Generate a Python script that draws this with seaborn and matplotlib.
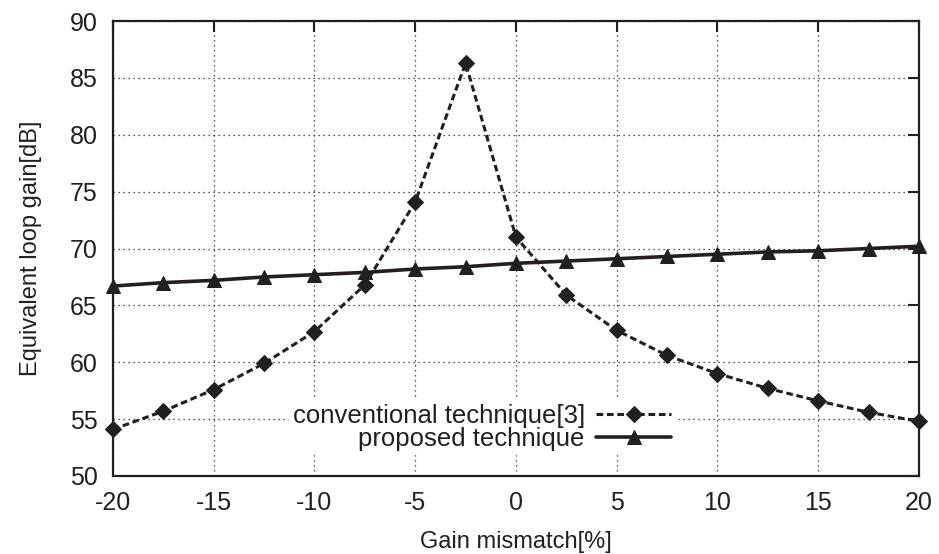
import numpy as np
import pandas as pd
import seaborn as sns
import matplotlib
matplotlib.use("Agg")
import matplotlib.pyplot as plt

# gain mismatch [%]
mismatch = [-20, -17.5, -15, -12.5, -10, -7.5, -5, -2.5, 0, 2.5, 5, 7.5, 10, 12.5, 15, 17.5, 20]
conventional = [54.1, 55.7, 57.6, 59.9, 62.7, 66.8, 74.1, 86.3, 71.0, 65.9, 62.8, 60.6, 59.0, 57.7, 56.6, 55.6, 54.8]
proposed = [66.7, 67.0, 67.2, 67.5, 67.7, 67.9, 68.2, 68.4, 68.7, 68.9, 69.1, 69.3, 69.5, 69.7, 69.8, 70.0, 70.2]
xticks = [-20, -15, -10, -5, 0, 5, 10, 15, 20]
yticks = [50, 55, 60, 65, 70, 75, 80, 85, 90]

sns.set_style("white")
plt.rcParams['font.family'] = ['Liberation Sans', 'DejaVu Sans']
plt.rcParams['axes.unicode_minus'] = False
ink = '#231f20'

fig = plt.figure(figsize=(9.39, 5.54), dpi=100)
ax = fig.add_axes([0.1203, 0.1408, 0.8584, 0.8212])

df = pd.DataFrame({'x': mismatch, 'conv': conventional, 'prop': proposed})
sns.lineplot(data=df, x='x', y='conv', ax=ax, color=ink, lw=2.2, ls=(0, (2.2, 1.2)),
             marker='D', markersize=8, markeredgecolor=ink,
             label='conventional technique[3]', clip_on=False, zorder=5)
sns.lineplot(data=df, x='x', y='prop', ax=ax, color=ink, lw=2.6,
             marker='^', markersize=10, markeredgecolor=ink,
             label='proposed technique', clip_on=False, zorder=5)

ax.set_xlim(-20, 20)
ax.set_ylim(50, 90)
ax.set_xticks(xticks)
ax.set_yticks(yticks)
ax.grid(True, ls=(0, (1, 3)), color=ink, lw=0.9)
ax.tick_params(direction='in', length=8, width=1.5, top=True, right=True,
               labelsize=18, colors=ink, labelcolor=ink)
ax.tick_params(axis='x', pad=11)
ax.tick_params(axis='y', pad=11)
for s in ax.spines.values():
    s.set_linewidth(1.6)
    s.set_color(ink)

ax.set_xlabel('Gain mismatch[%]', fontsize=17, color=ink, labelpad=11)
ax.set_ylabel('Equivalent loop gain[dB]', fontsize=17, color=ink, labelpad=20)

leg = ax.legend(loc='upper right', bbox_to_anchor=(0.697, 0.167), markerfirst=False,
                frameon=True, fontsize=18.5, handlelength=2.9, borderpad=0.15,
                labelspacing=-0.05, handletextpad=0.45, borderaxespad=0)
leg.get_frame().set_edgecolor('white')
leg.get_frame().set_facecolor('white')
leg.get_frame().set_alpha(1)
leg.set_zorder(4)
for t in leg.get_texts():
    t.set_color(ink)

fig.savefig('out.png', dpi=100)
